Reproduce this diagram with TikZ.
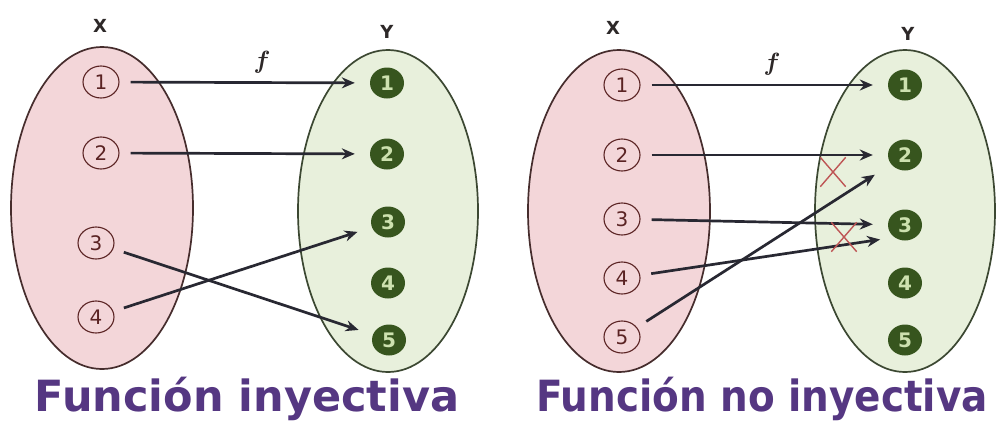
\documentclass[tikz,border=0pt]{standalone}
\usepackage{fontspec}
\setmainfont{DejaVu Sans}
\usetikzlibrary{shapes.geometric,shapes.misc,arrows.meta}
\definecolor{pinkfill}{RGB}{243,214,217}
\definecolor{greenfill}{RGB}{232,240,220}
\definecolor{xline}{RGB}{70,45,45}
\definecolor{yline}{RGB}{60,72,50}
\definecolor{dotgreen}{RGB}{55,85,30}
\definecolor{dotnum}{RGB}{205,225,175}
\definecolor{xnum}{RGB}{90,35,35}
\definecolor{arrowc}{RGB}{40,40,50}
\definecolor{crossc}{RGB}{190,85,85}
\definecolor{titlec}{RGB}{85,55,130}
\definecolor{labc}{RGB}{45,40,40}
\begin{document}
\begin{tikzpicture}[x=1pt,y=-1pt,
 setx/.style={ellipse,draw=xline,fill=pinkfill,line width=1.7pt,minimum width=182pt,minimum height=322pt,inner sep=0pt},
 sety/.style={ellipse,draw=yline,fill=greenfill,line width=1.7pt,minimum width=180pt,minimum height=322pt,inner sep=0pt},
 xel/.style={ellipse,draw=xnum,line width=1.1pt,minimum width=36pt,minimum height=32pt,inner sep=0pt,text=xnum,font=\fontsize{20}{20}\selectfont},
 yel/.style={ellipse,fill=dotgreen,minimum width=34pt,minimum height=31pt,inner sep=0pt,text=dotnum,font=\bfseries\fontsize{20}{20}\selectfont},
 arr/.style={draw=arrowc,line width=2.7pt,-{Stealth[length=13pt,width=11pt]},shorten <=11pt,shorten >=15pt},
 crossmark/.style={cross out,draw=crossc,line width=1.4pt,minimum width=24pt,minimum height=28pt,inner sep=0pt},
 setlab/.style={text=labc,font=\bfseries\fontsize{18}{18}\selectfont},
 flab/.style={text=labc,font=\boldmath\fontsize{32}{32}\selectfont},
 title/.style={text=titlec,anchor=base,font=\bfseries\fontsize{43}{43}\selectfont}
]
\useasboundingbox (0,0) rectangle (997,421);
\fill[white] (0,0) rectangle (997,421);
% ---------- left panel ----------
\node[setx] (LX) at (102,208) {};
\node[sety] (LY) at (388,211) {};
\node[setlab] (lxl) at (100,26) {X};
\node[setlab] (lyl) at (387,32) {Y};
\node[flab] (lf) at (262,62) {$f$};
\node[xel] (lx1) at (101,82) {1};
\node[xel] (lx2) at (101,153) {2};
\node[xel] (lx3) at (96,243) {3};
\node[xel] (lx4) at (96,317) {4};
\node[yel] (ly1) at (387,83) {1};
\node[yel] (ly2) at (387,154) {2};
\node[yel] (ly3) at (388,222) {3};
\node[yel] (ly4) at (388,283) {4};
\node[yel] (ly5) at (389,340) {5};
\draw[arr] (lx1) -- (ly1);
\draw[arr] (lx2) -- (ly2);
\draw[arr] (lx3) -- (ly5);
\draw[arr] (lx4) -- (ly3);
\node[title] (t1) at (247,411) {Función inyectiva};
% ---------- right panel ----------
\node[setx] (RX) at (619,211) {};
\node[sety] (RY) at (905,211) {};
\node[setlab] (rxl) at (613,28) {X};
\node[setlab] (ryl) at (908,34) {Y};
\node[flab] (rf) at (772,64) {$f$};
\node[xel] (rx1) at (622,85) {1};
\node[xel] (rx2) at (622,155) {2};
\node[xel] (rx3) at (622,219) {3};
\node[xel] (rx4) at (622,278) {4};
\node[xel] (rx5) at (622,337) {5};
\node[yel] (ry1) at (905,85) {1};
\node[yel] (ry2) at (905,155) {2};
\node[yel] (ry3) at (905,225) {3};
\node[yel] (ry4) at (905,283) {4};
\node[yel] (ry5) at (905,340) {5};
\coordinate (ry2low) at (890,165);
\coordinate (ry3low) at (890,238);
\draw[arr] (rx1) -- (ry1);
\draw[arr] (rx2) -- (ry2);
\draw[arr] (rx3) -- (ry3);
\draw[arr,shorten >=10pt] (rx4) -- (ry3low);
\draw[arr,shorten >=18pt] (rx5) -- (ry2low);
\node[crossmark] (c1) at (833,172) {};
\node[crossmark] (c2) at (844,237) {};
\node[title] (t2) at (762,411) {\scalebox{0.905}[1]{Función no inyectiva}};
\end{tikzpicture}
\end{document}
